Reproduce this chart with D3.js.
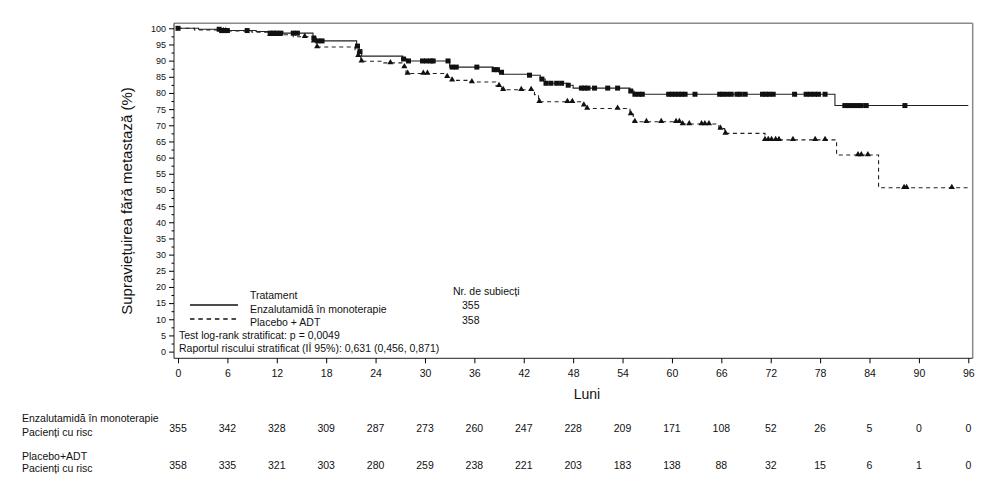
<!DOCTYPE html>
<html>
<head>
<meta charset="utf-8">
<script src="https://cdn.jsdelivr.net/npm/d3@7"></script>
<style>
  body { margin: 0; background: #fff; }
  text { font-family: "Liberation Sans", Arial, sans-serif; fill: #111; }
</style>
</head>
<body>
<div id="chart"></div>
<script>
const width = 995;
const height = 495;

// tick values
const months = d3.range(0, 97, 6);
const yTicks = d3.range(0, 101, 5);
const yMinor = d3.range(2.5, 100, 5);

// Kaplan-Meier steps (time in months, survival %)
const enzaTime = [0, 2.5, 5.3, 9.5, 11, 16.4, 16.8, 21.7, 22.0, 22.3, 27.3, 27.8, 33.0, 38.3, 39.0, 39.4, 42.5, 44.0, 44.6, 47.2, 48.0, 54.9, 55.4, 79.8];
const enzaSurv = [100, 99.7, 99.3, 99.0, 98.5, 97.0, 96.1, 94.5, 92.8, 91.4, 90.5, 89.9, 88.0, 87.2, 86.4, 85.8, 85.5, 84.3, 83.0, 82.4, 81.5, 80.6, 79.6, 76.1];
const placTime = [0, 2.0, 5.5, 9.0, 11.0, 14.0, 16.4, 16.8, 21.5, 21.8, 22.2, 25.0, 27.3, 27.7, 32.6, 33.2, 35.5, 38.6, 39.3, 43.3, 43.8, 49.2, 49.6, 54.9, 55.3, 61.0, 65.7, 66.4, 71.3, 80.0, 85.1];
const placSurv = [100, 99.5, 99.2, 98.8, 98.0, 97.4, 96.0, 94.2, 93.0, 91.5, 89.8, 89.3, 88.0, 86.0, 85.0, 83.9, 83.4, 82.2, 81.0, 79.5, 77.3, 76.2, 75.2, 73.5, 71.1, 70.4, 69.0, 67.5, 65.5, 60.8, 50.7];
const endTime = 96;

// censoring times
const enzaCensor = [0, 5.0, 5.3, 5.6, 6.0, 8.4, 11.2, 11.6, 12.0, 12.5, 14.0, 14.5, 16.5, 17.0, 17.5, 21.8, 22.1, 27.4, 28.0, 29.7, 30.2, 30.7, 31.0, 32.8, 33.3, 33.8, 36.3, 38.4, 38.8, 39.3, 42.7, 44.2, 44.7, 45.3, 46.0, 46.6, 47.4, 49.0, 49.4, 49.8, 50.6, 52.2, 53.4, 55.0, 55.5, 56.0, 56.4, 59.6, 60.0, 60.4, 60.8, 61.2, 61.6, 62.8, 65.8, 66.2, 66.7, 67.2, 67.9, 68.3, 68.9, 71.0, 71.4, 71.8, 72.3, 74.9, 76.3, 76.8, 77.3, 77.8, 78.6, 81.0, 81.5, 82.0, 82.5, 83.0, 83.6, 88.3];
const placCensor = [5.5, 5.8, 11.2, 11.7, 12.3, 15.4, 16.5, 16.9, 21.9, 22.3, 25.8, 27.5, 27.9, 29.8, 30.3, 32.7, 33.3, 35.7, 39.0, 39.5, 41.7, 42.9, 43.9, 47.3, 47.9, 49.3, 49.7, 53.4, 55.0, 55.5, 56.9, 58.7, 60.5, 60.9, 61.3, 62.1, 63.6, 64.0, 64.5, 65.9, 66.5, 71.3, 71.7, 72.1, 72.6, 73.0, 74.7, 77.4, 78.6, 82.6, 83.0, 83.8, 88.2, 88.5, 94.0];

// patients at risk
const enzaRisk = [355, 342, 328, 309, 287, 273, 260, 247, 228, 209, 171, 108, 52, 26, 5, 0, 0];
const placRisk = [358, 335, 321, 303, 280, 259, 238, 221, 203, 183, 138, 88, 32, 15, 6, 1, 0];

const svg = d3.select("#chart").append("svg")
  .attr("width", width)
  .attr("height", height);

svg.append("rect").attr("width", width).attr("height", height).attr("fill", "#fff");

const x = d3.scaleLinear().domain([0, 96]).range([178, 968.3]);
const y = d3.scaleLinear().domain([0, 100]).range([351.6, 28.3]);

const frameL = 174, frameR = 972.7, frameT = 23.3, frameB = 358.3;

// frame
svg.append("line").attr("x1", frameL).attr("x2", frameR).attr("y1", frameT).attr("y2", frameT)
  .attr("stroke", "#8a8a8a").attr("stroke-width", 1.5);
svg.append("line").attr("x1", frameR).attr("x2", frameR).attr("y1", frameT).attr("y2", frameB)
  .attr("stroke", "#8a8a8a").attr("stroke-width", 1.5);
svg.append("line").attr("x1", frameL).attr("x2", frameL).attr("y1", frameT).attr("y2", frameB)
  .attr("stroke", "#222").attr("stroke-width", 1);
svg.append("line").attr("x1", frameL).attr("x2", frameR).attr("y1", frameB).attr("y2", frameB)
  .attr("stroke", "#222").attr("stroke-width", 1);

// y axis
const yAxis = svg.append("g")
  .attr("transform", `translate(${frameL},0)`)
  .call(d3.axisLeft(y).tickValues(yTicks).tickSize(5).tickSizeOuter(0).tickPadding(3));
yAxis.select(".domain").remove();
yAxis.selectAll("text").attr("font-size", 9).attr("font-family", null);

const yMinorAxis = svg.append("g")
  .attr("transform", `translate(${frameL},0)`)
  .call(d3.axisLeft(y).tickValues(yMinor).tickSize(2.5).tickFormat(""));
yMinorAxis.select(".domain").remove();

// x axis
const xAxis = svg.append("g")
  .attr("transform", `translate(0,${frameB})`)
  .call(d3.axisBottom(x).tickValues(months).tickSize(5).tickSizeOuter(0).tickPadding(6));
xAxis.select(".domain").remove();
xAxis.selectAll("text").attr("font-size", 10.5).attr("font-family", null);

// axis titles
svg.append("text")
  .attr("transform", "translate(132,201) rotate(-90)")
  .attr("text-anchor", "middle")
  .attr("font-size", 15)
  .text("Supraviețuirea fără metastază (%)");

svg.append("text")
  .attr("x", 587).attr("y", 399)
  .attr("text-anchor", "middle")
  .attr("font-size", 14)
  .text("Luni");

// curves
const stepLine = d3.line()
  .x(d => x(d[0]))
  .y(d => y(d[1]))
  .curve(d3.curveStepAfter);

function stepPoints(times, surv) {
  const pts = times.map((t, i) => [t, surv[i]]);
  pts.push([endTime, surv[surv.length - 1]]);
  return pts;
}

function survAt(times, surv, t) {
  const i = d3.bisectRight(times, t) - 1;
  return surv[Math.max(0, i)];
}

svg.append("path")
  .datum(stepPoints(placTime, placSurv))
  .attr("d", stepLine)
  .attr("fill", "none")
  .attr("stroke", "#222")
  .attr("stroke-width", 1.1)
  .attr("stroke-dasharray", "4,3.5");

svg.append("path")
  .datum(stepPoints(enzaTime, enzaSurv))
  .attr("d", stepLine)
  .attr("fill", "none")
  .attr("stroke", "#222")
  .attr("stroke-width", 1.1);

// censor marks
svg.append("g").selectAll("rect")
  .data(enzaCensor)
  .join("rect")
  .attr("x", d => x(d) - 2.5)
  .attr("y", d => y(survAt(enzaTime, enzaSurv, d)) - 2.5)
  .attr("width", 5)
  .attr("height", 5)
  .attr("fill", "#111");

const tri = d3.symbol().type(d3.symbolTriangle).size(16);
svg.append("g").selectAll("path")
  .data(placCensor)
  .join("path")
  .attr("d", tri)
  .attr("transform", d => `translate(${x(d)},${y(survAt(placTime, placSurv, d)) - 0.5})`)
  .attr("fill", "#111");

// legend
const legend = svg.append("g").attr("font-size", 10.5);
legend.append("text").attr("x", 250).attr("y", 299).text("Tratament");
legend.append("line").attr("x1", 190).attr("x2", 238).attr("y1", 305).attr("y2", 305)
  .attr("stroke", "#111").attr("stroke-width", 1.6);
legend.append("text").attr("x", 250).attr("y", 312.5).text("Enzalutamidă în monoterapie");
legend.append("line").attr("x1", 190).attr("x2", 238).attr("y1", 319).attr("y2", 319)
  .attr("stroke", "#111").attr("stroke-width", 1.6).attr("stroke-dasharray", "4.5,3.8");
legend.append("text").attr("x", 250).attr("y", 325.5).text("Placebo + ADT");
legend.append("text").attr("x", 179).attr("y", 338.5).text("Test log-rank stratificat: p = 0,0049");
legend.append("text").attr("x", 179).attr("y", 351.5).text("Raportul riscului stratificat (IÎ 95%): 0,631 (0,456, 0,871)");
legend.append("text").attr("x", 453).attr("y", 295).text("Nr. de subiecți");
legend.append("text").attr("x", 462).attr("y", 309).text(enzaRisk[0]);
legend.append("text").attr("x", 462).attr("y", 323.5).text(placRisk[0]);

// risk table
const risk = svg.append("g").attr("font-size", 10.5);
risk.append("text").attr("x", 22).attr("y", 422).text("Enzalutamidă în monoterapie");
risk.append("text").attr("x", 22).attr("y", 435.5).text("Pacienți cu risc");
risk.append("text").attr("x", 22).attr("y", 459.5).text("Placebo+ADT");
risk.append("text").attr("x", 22).attr("y", 472).text("Pacienți cu risc");

risk.append("g").selectAll("text")
  .data(enzaRisk)
  .join("text")
  .attr("x", (d, i) => x(months[i]))
  .attr("y", 432)
  .attr("text-anchor", "middle")
  .attr("fill", "#333")
  .text(d => d);

risk.append("g").selectAll("text")
  .data(placRisk)
  .join("text")
  .attr("x", (d, i) => x(months[i]))
  .attr("y", 469)
  .attr("text-anchor", "middle")
  .attr("fill", "#333")
  .text(d => d);
</script>
</body>
</html>
